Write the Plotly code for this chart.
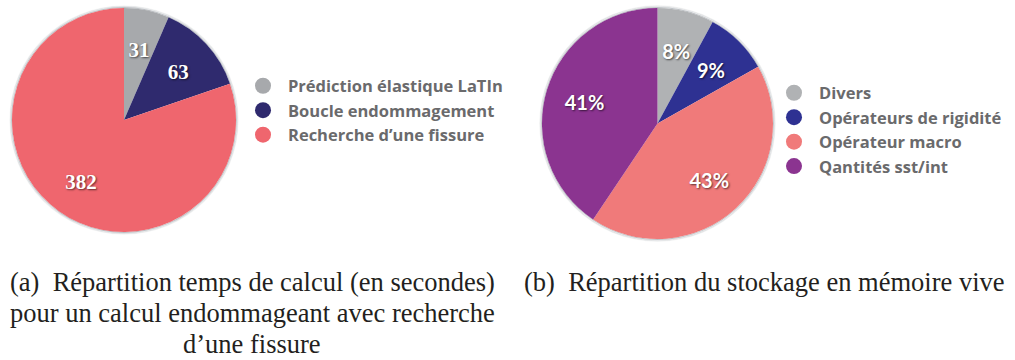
import numpy as np
import plotly.graph_objects as go

# Temps de calcul (s)
temps_labels = ["Prédiction élastique LaTIn", "Boucle endommagement", "Recherche d\u2019une fissure"]
temps_values = [31, 63, 382]
temps_colors = ["#a7a9ac", "#2f2a6e", "#ef666e"]

# Stockage mémoire (%)
mem_labels = ["Divers", "Opérateurs de rigidité", "Opérateur macro", "Qantités sst/int"]
mem_values = [8, 9, 43, 41]
mem_colors = ["#b0b2b4", "#2e3192", "#f07a7a", "#8b3490"]

captions_a = [
    "(a)\u2002Répartition temps de calcul (en secondes)",
    "pour un calcul endommageant avec recherche",
    "d\u2019une fissure",
]
caption_b = "(b)\u2002Répartition du stockage en mémoire vive"

W, H = 1015, 360
RMAX = 1.025          # radial room kept for the soft edge shadow
LABEL_R = 0.66        # radial position of the slice labels
label_shadow = "1px 1px 2px rgba(0,0,0,0.6)"
legend_font = dict(family="Open Sans", size=16.5, color="#6a6a6c", weight=700)
caption_font = dict(family="Liberation Serif, Times New Roman, serif", size=26.5, color="#231f20")


def wedges(values):
    """Angular centre and width (degrees) of each slice, clockwise from 12 o'clock."""
    v = np.asarray(values, dtype=float)
    span = v / v.sum() * 360.0
    mid = np.cumsum(span) - span / 2
    return mid, span


def box(cx, cy, r, dy=0.0):
    """Paper-coordinate domain of a polar subplot of radius r (px) centred at (cx, cy)."""
    return dict(x=[(cx - r) / W, (cx + r) / W],
                y=[1 - (cy + dy + r) / H, 1 - (cy + dy - r) / H])


fig = go.Figure()


def add_pie(values, colors, labels, texts, subplot, label_subplot, font):
    mid, span = wedges(values)
    # soft shadow around the disc
    for base, alpha in [(1.0, 0.42), (1.010, 0.2), (1.018, 0.08)]:
        fig.add_trace(go.Barpolar(
            r=[0.008], theta=[180], width=[360], base=base,
            marker=dict(color=f"rgba(100,110,120,{alpha})", line=dict(width=0)),
            subplot=subplot, showlegend=False, hoverinfo="skip",
        ))
    fig.add_trace(go.Barpolar(
        r=[1] * len(values), theta=mid, width=span, base=0,
        marker=dict(color=colors, line=dict(width=0)),
        subplot=subplot, showlegend=False,
        customdata=labels, hovertemplate="%{customdata}<extra></extra>",
    ))
    fig.add_trace(go.Scatterpolar(
        r=[LABEL_R] * len(values), theta=mid, mode="text", text=texts,
        textposition="middle center", textfont=font,
        subplot=label_subplot, showlegend=False, hoverinfo="skip",
    ))


add_pie(temps_values, temps_colors, temps_labels,
        [str(v) for v in temps_values], "polar", "polar3",
        dict(family="Liberation Serif", size=21, color="white", weight="bold",
             shadow=label_shadow))
add_pie(mem_values, mem_colors, mem_labels,
        [f"{v}%" for v in mem_values], "polar2", "polar4",
        dict(family="Lato", size=20, color="white", weight="bold",
             shadow=label_shadow))

# Legend entries drawn as round markers
for lab, col in zip(temps_labels, temps_colors):
    fig.add_trace(go.Scatter(x=[None], y=[None], mode="markers", name=lab,
                             marker=dict(symbol="circle", size=16, color=col),
                             legend="legend", hoverinfo="skip"))
for lab, col in zip(mem_labels, mem_colors):
    fig.add_trace(go.Scatter(x=[None], y=[None], mode="markers", name=lab,
                             marker=dict(symbol="circle", size=16, color=col),
                             legend="legend2", hoverinfo="skip"))

annotations = []
for txt, yc in zip(captions_a, [282, 313, 344]):
    annotations.append(dict(text=txt, x=252 / W, y=1 - yc / H, xref="paper", yref="paper",
                            xanchor="center", yanchor="middle", showarrow=False,
                            font=caption_font))
annotations.append(dict(text=caption_b, x=764 / W, y=1 - 282 / H, xref="paper", yref="paper",
                        xanchor="center", yanchor="middle", showarrow=False,
                        font=caption_font))

polar_common = dict(
    bgcolor="rgba(0,0,0,0)",
    radialaxis=dict(range=[0, RMAX], visible=False),
    angularaxis=dict(direction="clockwise", rotation=90, visible=False),
)

# pie a: centre (124, 120), radius 112 px ; pie b: centre (657.5, 123.5), radius 115.5 px
fig.update_layout(
    width=W, height=H, margin=dict(l=0, r=0, t=0, b=0),
    paper_bgcolor="white", plot_bgcolor="rgba(0,0,0,0)",
    xaxis=dict(visible=False), yaxis=dict(visible=False),
    polar=dict(domain=box(124, 120, 112 * RMAX), **polar_common),
    polar2=dict(domain=box(657.5, 123.5, 115.5 * RMAX), **polar_common),
    polar3=dict(domain=box(124, 120, 112 * RMAX, dy=4), **polar_common),
    polar4=dict(domain=box(657.5, 123.5, 115.5 * RMAX, dy=4), **polar_common),
    legend=dict(x=238 / W, y=1 - 68.5 / H, xanchor="left", yanchor="top",
                font=legend_font, itemsizing="trace", tracegroupgap=0,
                bgcolor="rgba(0,0,0,0)", itemwidth=40),
    legend2=dict(x=769 / W, y=1 - 75.5 / H, xanchor="left", yanchor="top",
                 font=legend_font, itemsizing="trace", tracegroupgap=0,
                 bgcolor="rgba(0,0,0,0)", itemwidth=40),
    annotations=annotations,
)

fig.write_html("out.html")
